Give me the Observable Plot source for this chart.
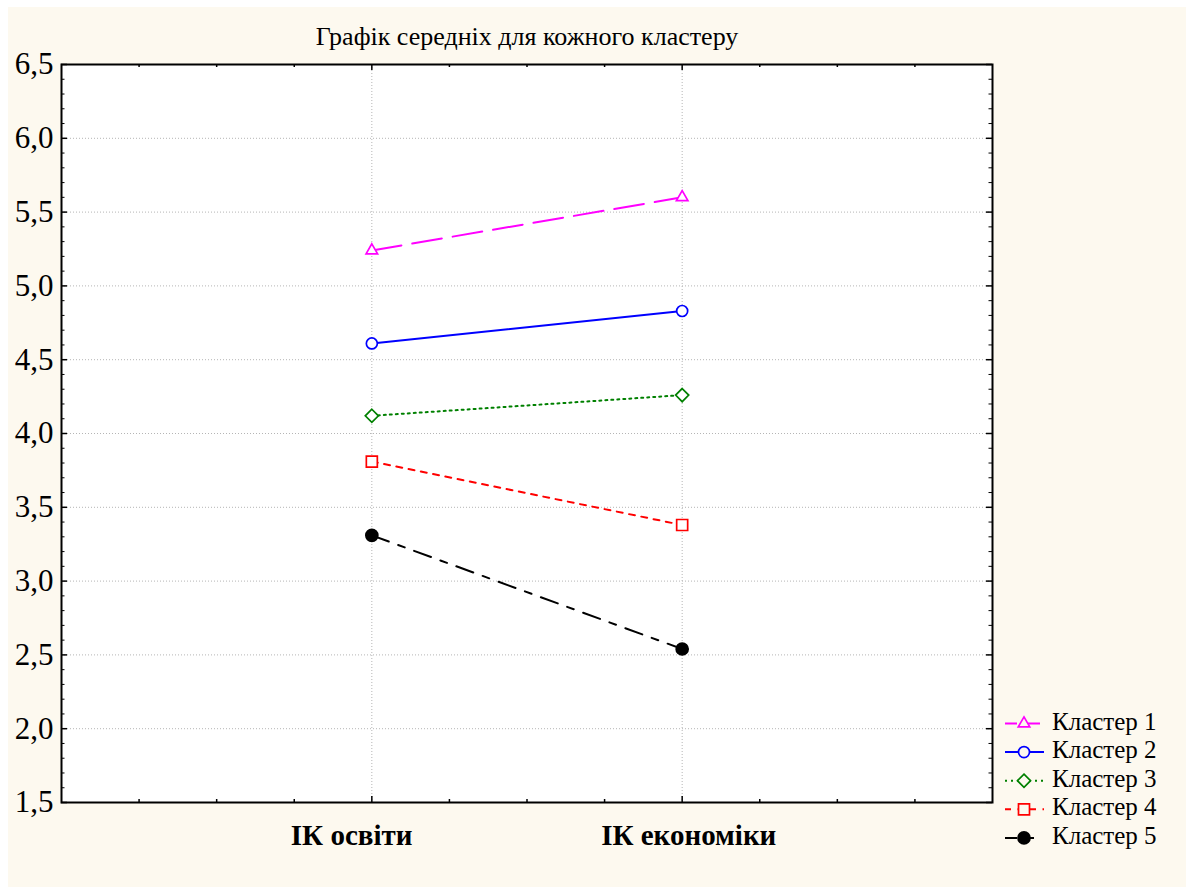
<!DOCTYPE html>
<html><head><meta charset="utf-8">
<script src="https://cdn.jsdelivr.net/npm/d3@7"></script>
<script src="https://cdn.jsdelivr.net/npm/@observablehq/plot@0.6"></script>
<style>
html,body{margin:0;padding:0;background:#fff;width:1192px;height:888px;overflow:hidden;}
#wrap{position:absolute;left:8px;top:7px;width:1178px;height:880px;background:#FDF9EF;}
#wrap svg{display:block;}
#wrap svg text{font-family:'Liberation Serif','Times New Roman',serif;font-variant:normal;}
#legend{position:absolute;left:0;top:0;pointer-events:none;}
</style></head><body>
<div id="wrap"></div>
<script>
const title = "Графік середніх для кожного кластеру";
const categories = ["ІК освіти", "ІК економіки"];
const seriesNames = ["Кластер 1", "Кластер 2", "Кластер 3", "Кластер 4", "Кластер 5"];
const cluster1 = [5.24, 5.60];
const cluster2 = [4.61, 4.83];
const cluster3 = [4.12, 4.26];
const cluster4 = [3.81, 3.38];
const cluster5 = [3.31, 2.54];
const yTicks = [1.5, 2.0, 2.5, 3.0, 3.5, 4.0, 4.5, 5.0, 5.5, 6.0, 6.5];

const seriesValues = [cluster1, cluster2, cluster3, cluster4, cluster5];
const colors = ["#FF00FF", "#0000FF", "#008000", "#FF0000", "#000000"];
const dashes = ["30,11", null, "2,4", "6,6.5", "18,10,7,10"];
const symbols = ["triangle2", "circle", "diamond2", "square2", "circle"];
const radii = [5.5, 5.5, 5.9, 7, 6];
const fills = ["white", "white", "white", "white", "black"];

const FONT = "'Liberation Serif','Times New Roman',serif";
const W = 1178, H = 880, mL = 53, mT = 57, mR = 194, mB = 85;
const innerW = W - mL - mR, innerH = H - mT - mB;

// categories sit on a 0..12 linear axis (minor ticks every unit)
const xPos = categories.map((c, i) => (i + 1) * 4);
const rows = seriesNames.map((s, k) => categories.map((c, i) => ({series: s, cat: c, x: xPos[i], v: seriesValues[k][i]})));

const yMinor = d3.range(15, 66).filter(v => v % 5 !== 0).map(v => v / 10);
const xMinor = d3.range(1, 12).filter(v => !xPos.includes(v));
const fmt = d => d.toFixed(1).replace(".", ",");

const marks = [
  Plot.frame({fill: "white", stroke: null}),
  Plot.gridY(yTicks.slice(1, -1), {stroke: "#b5b5b5", strokeOpacity: 1, strokeDasharray: "1,2"}),
  Plot.gridX(xPos, {stroke: "#b5b5b5", strokeOpacity: 1, strokeDasharray: "1,2"}),
  // inward ticks, left & right
  Plot.tickY(yMinor, {y: d => d, insetRight: innerW - 3.5, stroke: "black", strokeWidth: 1}),
  Plot.tickY(yMinor, {y: d => d, insetLeft: innerW - 3.5, stroke: "black", strokeWidth: 1}),
  Plot.tickY(yTicks, {y: d => d, insetRight: innerW - 6, stroke: "black", strokeWidth: 1.5}),
  Plot.tickY(yTicks, {y: d => d, insetLeft: innerW - 6, stroke: "black", strokeWidth: 1.5}),
  // inward ticks, top & bottom
  Plot.tickX(xMinor, {x: d => d, insetTop: innerH - 3, stroke: "black", strokeWidth: 1.5}),
  Plot.tickX(xMinor, {x: d => d, insetBottom: innerH - 3, stroke: "black", strokeWidth: 1.5}),
  Plot.tickX(xPos, {x: d => d, insetTop: innerH - 6, stroke: "black", strokeWidth: 1.5}),
  Plot.tickX(xPos, {x: d => d, insetBottom: innerH - 6, stroke: "black", strokeWidth: 1.5}),
  Plot.frame({stroke: "black", strokeWidth: 2}),
  Plot.axisY(yTicks, {tickSize: 0, tickPadding: 8, tickFormat: fmt, fontSize: 31, fill: "black", label: null, fontVariant: "normal"}),
  Plot.text(categories, {x: (d, i) => xPos[i], text: d => d, frameAnchor: "bottom", dy: 33, textAnchor: "start", dx: -81,
    fontSize: 29, fontWeight: "bold", fill: "black", lineAnchor: "middle"}),
  Plot.text([title], {text: d => d, frameAnchor: "top", dy: -28, fontSize: 26, fill: "black", lineAnchor: "middle"})
];
rows.forEach((r, k) => {
  marks.push(Plot.line(r, {x: "x", y: "v", stroke: colors[k], strokeWidth: 2, strokeDasharray: dashes[k]}));
});
rows.forEach((r, k) => {
  marks.push(Plot.dot(r, {x: "x", y: "v", symbol: symbols[k], r: radii[k], stroke: colors[k], fill: fills[k], strokeWidth: 1.7}));
});

const chart = Plot.plot({
  width: W, height: H,
  marginLeft: mL, marginTop: mT, marginRight: mR, marginBottom: mB,
  x: {type: "linear", domain: [0, 12], axis: null},
  y: {type: "linear", domain: [1.5, 6.5], label: null},
  style: {fontFamily: FONT, background: "transparent", color: "black"},
  marks
});
document.getElementById("wrap").appendChild(chart);

// legend
const leg = d3.select("body").append("svg").attr("id", "legend").attr("width", 1192).attr("height", 888);
const symMap = {triangle2: d3.symbolTriangle2, circle: d3.symbolCircle, diamond2: d3.symbolDiamond2, square2: d3.symbolSquare2};
seriesNames.forEach((name, k) => {
  const y = 723.5 + k * 28.6;
  const g = leg.append("g");
  g.append("line").attr("x1", 1005).attr("x2", 1044).attr("y1", y).attr("y2", y)
    .attr("stroke", colors[k]).attr("stroke-width", 2)
    .attr("stroke-dasharray", dashes[k] ? dashes[k].split(",").map(v => Math.min(+v, 12)).join(",") : null);
  g.append("path").attr("transform", `translate(1024,${y})`)
    .attr("d", d3.symbol(symMap[symbols[k]], Math.PI * radii[k] * radii[k])())
    .attr("fill", fills[k] === "white" ? "#FDF9EF" : fills[k]).attr("stroke", colors[k]).attr("stroke-width", 1.7);
  g.append("text").attr("x", 1052).attr("y", y + 6).attr("font-family", FONT).attr("font-size", 25).attr("fill", "black").text(name);
});
</script>
</body></html>
